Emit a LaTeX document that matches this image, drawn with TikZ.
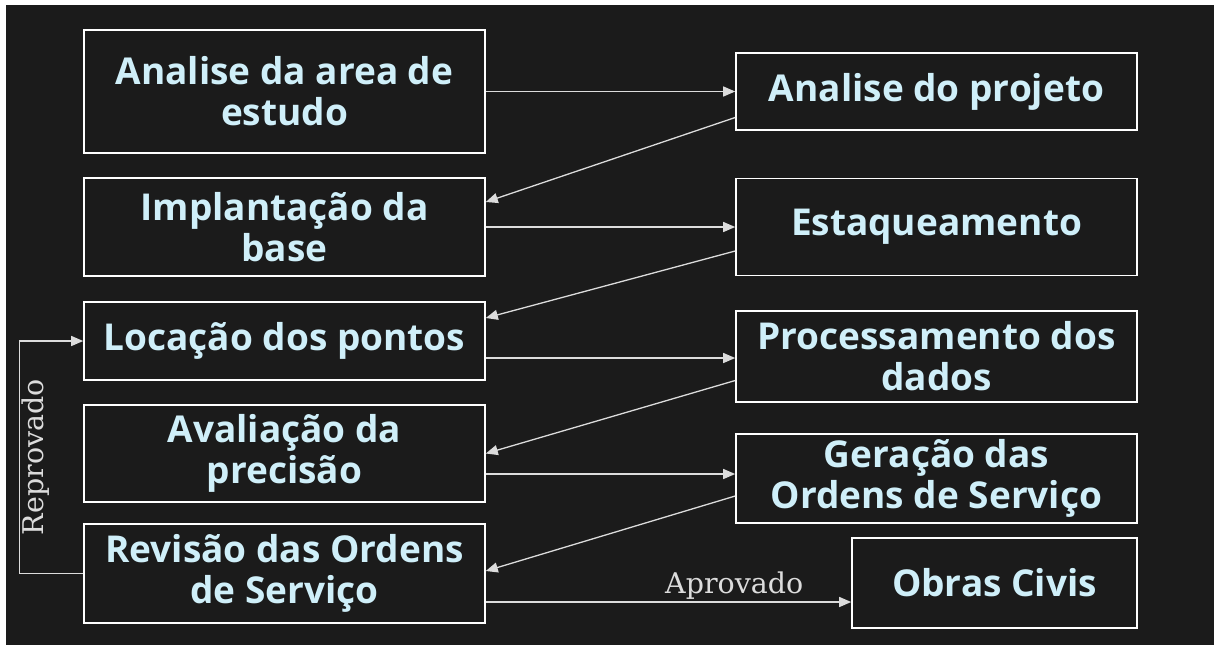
\documentclass[tikz,border=0pt]{standalone}
\usepackage{fontspec}
\usepackage{tikz}
\usetikzlibrary{arrows.meta}
\newfontfamily\stagefont{Open Sans}
\newfontfamily\notefont{DejaVu Serif}
\definecolor{canvas}{HTML}{1B1B1B}
\definecolor{stagetext}{HTML}{CFEFF9}
\definecolor{wire}{HTML}{DCDCDC}

\begin{document}
\begin{tikzpicture}[x=1pt, y=-1pt,
  stage/.style={draw=white, line width=1.6pt, text=stagetext, align=center,
    font=\stagefont\bfseries\fontsize{37}{41}\selectfont, inner sep=0pt, minimum width=401pt},
  note/.style={text=wire, inner sep=2pt, font=\notefont\fontsize{28.5}{30}\selectfont},
  >={Triangle[length=12pt,width=10pt]}]
 \fill[canvas] (0,0) rectangle (1214,645);
 \fill[white] (0,0) rectangle (6,645);
 \fill[white] (0,0) rectangle (1214,5);
 % left column
 \node[stage, minimum height=123pt] (area)    at (284.5,91.5)  {Analise da area de\\estudo};
 \node[stage, minimum height=98pt]  (base)    at (284.5,227)   {Implantação da\\base};
 \node[stage, minimum height=78pt]  (pontos)  at (284.5,341)   {Locação dos pontos};
 \node[stage, minimum height=97pt]  (aval)    at (284.5,453.5) {Avaliação da\\precisão};
 \node[stage, minimum height=99pt]  (revisao) at (284.5,573.5) {Revisão das Ordens\\de Serviço};
 % right column
 \node[stage, minimum height=77pt]  (projeto) at (936.5,91.5)  {Analise do projeto};
 \node[stage, minimum height=97pt]  (estaq)   at (936.5,227)   {Estaqueamento};
 \node[stage, minimum height=91pt]  (dados)   at (936.5,356.5) {Processamento dos\\dados};
 \node[stage, minimum height=89pt]  (ordens)  at (936.5,478.5) {Geração das\\Ordens de Serviço};
 \node[stage, minimum height=90pt, minimum width=285pt] (obras) at (994.5,583) {Obras Civis};

 \path[->, color=wire, line width=1.3pt]
  (area) edge (projeto)
  ([yshift=-26pt]projeto.west) edge ([yshift=25pt]base.east)
  (base) edge (estaq)
  ([yshift=-24pt]estaq.west) edge ([yshift=23pt]pontos.east)
  ([yshift=-17pt]pontos.east) edge ([yshift=-1.5pt]dados.west)
  ([yshift=-24pt]dados.west) edge (aval.east)
  ([yshift=-20.5pt]aval.east) edge ([yshift=4.5pt]ordens.west)
  ([yshift=-17.5pt]ordens.west) edge ([yshift=2.5pt]revisao.east)
  ([yshift=-28.5pt]revisao.east) edge node[note, pos=.68, above] {Aprovado} ([yshift=-19pt]obras.west)
;
 \draw[->, wire, line width=1.3pt] (revisao.west) -- ++(-64,0)
  |- node[note, pos=.25, rotate=90, anchor=north] {Reprovado} (pontos.west);
\end{tikzpicture}
\end{document}
